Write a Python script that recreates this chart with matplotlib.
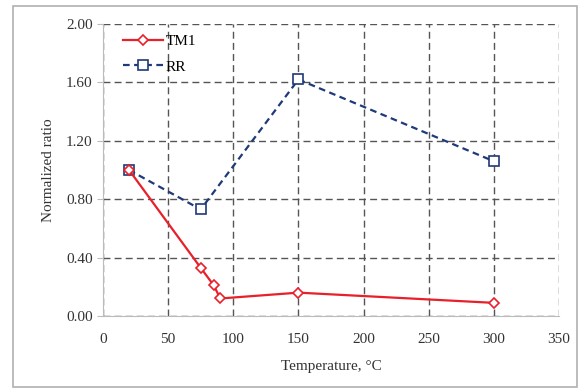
import matplotlib.pyplot as plt
from matplotlib.patches import Rectangle

plt.rcParams['font.family'] = ['Liberation Serif', 'DejaVu Serif']

temp_tm1 = [20, 75, 85, 90, 150, 300]
ratio_tm1 = [1.00, 0.33, 0.21, 0.12, 0.16, 0.09]
temp_rr = [20, 75, 150, 300]
ratio_rr = [1.00, 0.73, 1.62, 1.06]
xticks = [0, 50, 100, 150, 200, 250, 300, 350]
yticks = [0.0, 0.4, 0.8, 1.2, 1.6, 2.0]

fig = plt.figure(figsize=(5.86, 3.89), dpi=100)
ax = fig.add_axes([103 / 586, 1 - 316 / 389, 456 / 586, 292 / 389])

# outer frame like the spreadsheet chart area
fig.patches.append(Rectangle((13 / 586, 0.005), 564 / 586, 1 - 0.005 - 6 / 389,
                             transform=fig.transFigure, fill=False,
                             edgecolor='#b0b0b0', linewidth=1.2))

ax.plot(temp_tm1, ratio_tm1, color='#e8202a', linewidth=1.6, marker='D',
        markersize=5.5, markerfacecolor='white', markeredgecolor='#e8202a',
        markeredgewidth=1.2, label='TM1', zorder=4)
ax.plot(temp_rr, ratio_rr, color='#1f3a78', linewidth=1.6, linestyle=(0, (3, 2)),
        marker='s', markersize=7, markerfacecolor='white', markeredgecolor='#1f3a78',
        markeredgewidth=1.2, label='RR', zorder=3)

ax.set_xlim(0, 350)
ax.set_ylim(0, 2.0)
ax.set_xticks(xticks)
ax.set_yticks(yticks)
ax.set_yticklabels([f'{v:.2f}' for v in yticks])
ax.grid(True, color='#555555', linestyle=(0, (5, 3)), linewidth=1.0)
for side in ['top', 'right']:
    ax.spines[side].set_visible(False)
for side in ['left', 'bottom']:
    ax.spines[side].set_color('#bbbbbb')
ax.tick_params(axis='both', labelsize=11, colors='#333333', length=4, color='#bbbbbb')
ax.tick_params(axis='x', length=0, pad=12)

ax.set_xlabel('Temperature, °C', fontsize=11, color='#333333', labelpad=10)
ax.set_ylabel('Normalized ratio', fontsize=11, color='#333333', labelpad=8)

ax.legend(loc='upper left', frameon=False, fontsize=11, handlelength=2.6,
          borderaxespad=0.3, labelspacing=0.75, handletextpad=0.2,
          bbox_to_anchor=(0.02, 1.0))

fig.savefig('out.png', dpi=100)
